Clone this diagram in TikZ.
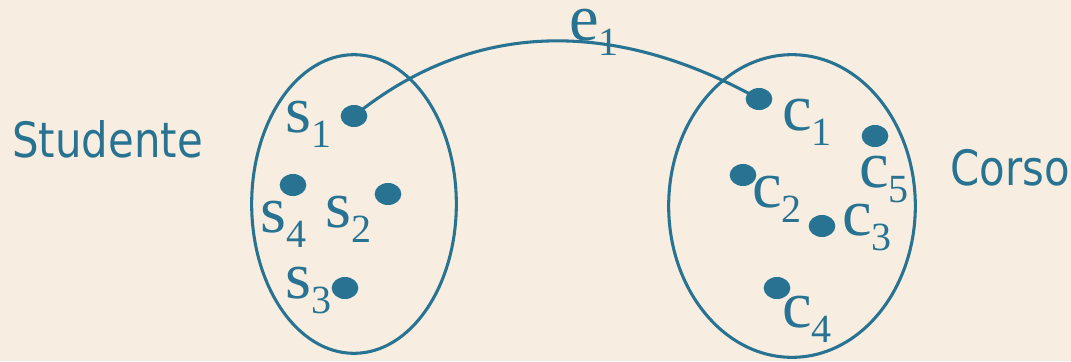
\documentclass[tikz,border=0pt]{standalone}
\usepackage{fontspec}
\setmainfont{Liberation Serif}
\newfontfamily\sansf{DejaVu Sans}
\usetikzlibrary{shapes.geometric}
\definecolor{teal1}{HTML}{287292}
\definecolor{bg}{HTML}{F7EEE1}
\newcommand{\lbl}[2]{{\fontsize{50}{50}\selectfont #1\raisebox{-11.25pt}{\fontsize{30}{30}\selectfont #2}}}
\newcommand{\setname}[1]{\scalebox{0.86}[1]{\sansf\fontsize{36.5}{36.5}\selectfont #1}}
\tikzset{
  dot/.style={shape=ellipse, fill=teal1, minimum width=20pt, minimum height=16.5pt, inner sep=0pt},
  setell/.style={shape=ellipse, draw=teal1, line width=2.3pt, inner sep=0pt},
  lab/.style={anchor=base west, inner sep=0pt, text=teal1},
  conn/.style={draw=teal1, line width=2.3pt}
}
\begin{document}
\begin{tikzpicture}[x=0.75pt,y=-0.75pt]
\fill[bg] (0,0) rectangle (1071,361);
\useasboundingbox (0,0) rectangle (1071,361);
% sets
\node[setell, minimum width=153.5pt, minimum height=224pt] (S) at (354,204) {};
\node[setell, minimum width=185pt, minimum height=227pt] (C) at (792,206) {};
% dots
\node[dot] (s1) at (354,116) {};
\node[dot] (s4) at (293,185) {};
\node[dot] (s2) at (388,194) {};
\node[dot] (s3) at (345,288) {};
\node[dot] (c1) at (759,99) {};
\node[dot] (c5) at (875,136) {};
\node[dot] (c2) at (743,175) {};
\node[dot] (c3) at (822,226) {};
\node[dot] (c4) at (777,288) {};
% connector
\draw[conn] (s1.center) .. controls (470,22) and (610,16) .. (c1.center);
% labels
\node[lab] (ls1) at (285,132) {\lbl{s}{1}};
\node[lab] (ls4) at (260,232) {\lbl{s}{4}};
\node[lab] (ls2) at (325,227) {\lbl{s}{2}};
\node[lab] (ls3) at (285,298) {\lbl{s}{3}};
\node[lab] (lc1) at (782,130) {\lbl{c}{1}};
\node[lab] (lc5) at (859,187) {\lbl{c}{5}};
\node[lab] (lc2) at (752,207) {\lbl{c}{2}};
\node[lab] (lc3) at (842,235) {\lbl{c}{3}};
\node[lab] (lc4) at (782,327) {\lbl{c}{4}};
\node[lab] (le1) at (569,40) {\lbl{e}{1}};
\node[lab] (stud) at (12,157) {\setname{Studente}};
\node[lab] (corso) at (950,185) {\setname{Corso}};
\end{tikzpicture}
\end{document}
